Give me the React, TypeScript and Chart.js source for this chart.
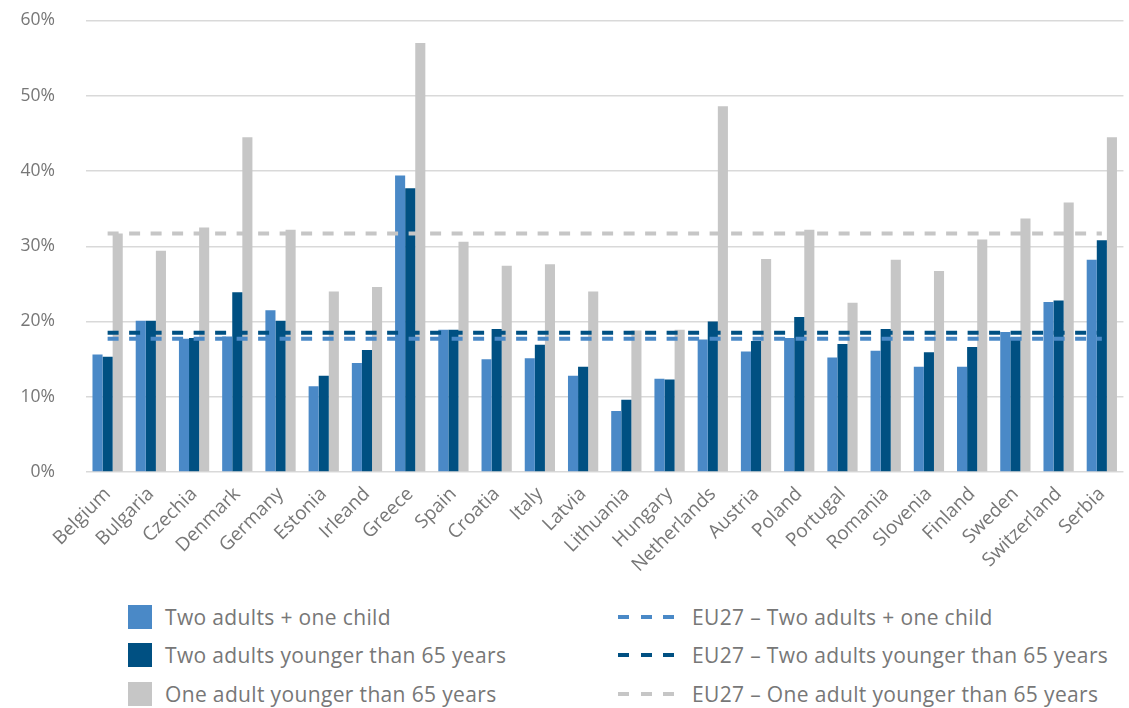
import React, { useEffect, useRef } from "react";
import { Chart, registerables } from "chart.js";

Chart.register(...registerables);

const categories = [
  "Belgium", "Bulgaria", "Czechia", "Denmark", "Germany", "Estonia", "Irleand", "Greece",
  "Spain", "Croatia", "Italy", "Latvia", "Lithuania", "Hungary", "Netherlands", "Austria",
  "Poland", "Portugal", "Romania", "Slovenia", "Finland", "Sweden", "Switzerland", "Serbia",
];

const twoAdultsOneChild = [
  15.6, 20.1, 17.7, 18.0, 21.5, 11.4, 14.5, 39.4, 18.9, 15.0, 15.1, 12.8,
  8.1, 12.4, 17.6, 16.0, 17.8, 15.2, 16.1, 14.0, 14.0, 18.6, 22.6, 28.2,
];
const twoAdultsUnder65 = [
  15.3, 20.1, 17.8, 23.9, 20.1, 12.8, 16.2, 37.7, 18.9, 19.0, 16.9, 14.0,
  9.6, 12.3, 20.0, 17.4, 20.6, 17.0, 19.0, 15.9, 16.6, 17.9, 22.8, 30.8,
];
const oneAdultUnder65 = [
  31.7, 29.4, 32.5, 44.5, 32.2, 24.0, 24.6, 57.0, 30.6, 27.4, 27.6, 24.0,
  18.8, 18.9, 48.6, 28.3, 32.2, 22.5, 28.2, 26.7, 30.9, 33.7, 35.8, 44.5,
];

const eu27TwoAdultsOneChild = 17.7;
const eu27TwoAdultsUnder65 = 18.5;
const eu27OneAdultUnder65 = 31.7;

const yMin = 0;
const yMax = 60;
const yStep = 10;

const seriesLabels = [
  "Two adults + one child",
  "Two adults younger than 65 years",
  "One adult younger than 65 years",
];
const euLabels = [
  "EU27 \u2013 Two adults + one child",
  "EU27 \u2013 Two adults younger than 65 years",
  "EU27 \u2013 One adult younger than 65 years",
];

const LIGHT = "#4a89c7";
const DARK = "#005082";
const GREY = "#c6c6c6";
const TEXT = "#777777";
const GRID = "#d9d9d9";
const FONT = "'Open Sans', 'Noto Sans', sans-serif";
const colors = [LIGHT, DARK, GREY];

export default function App() {
  const canvasRef = useRef<HTMLCanvasElement | null>(null);

  useEffect(() => {
    document.body.style.margin = "0";
    const ctx = canvasRef.current;
    if (!ctx) return;
    const euValues = [eu27TwoAdultsOneChild, eu27TwoAdultsUnder65, eu27OneAdultUnder65];
    const lineSets = euValues.map((v, i) => ({
      type: "line" as const,
      label: euLabels[i],
      data: categories.map(() => v),
      borderColor: colors[i],
      backgroundColor: colors[i],
      borderWidth: 4,
      borderDash: [11, 10.5],
      pointRadius: 0,
      fill: false,
      order: 0,
    }));
    const barSets = [twoAdultsOneChild, twoAdultsUnder65, oneAdultUnder65].map((d, i) => ({
      type: "bar" as const,
      label: seriesLabels[i],
      data: d,
      backgroundColor: colors[i],
      borderWidth: 0,
      categoryPercentage: 0.7,
      barPercentage: 1.0,
      order: 1,
    }));
    const chart = new Chart(ctx, {
      type: "bar",
      data: {
        labels: categories,
        datasets: [...barSets, ...lineSets] as any,
      },
      options: {
        animation: false,
        responsive: false,
        devicePixelRatio: 1,
        layout: { padding: { top: 0, right: 2, left: 0, bottom: 0 } },
        plugins: { legend: { display: false }, tooltip: { enabled: false } },
        scales: {
          x: {
            grid: { display: false, drawTicks: false },
            border: { display: false },
            ticks: {
              color: TEXT,
              font: { family: FONT, size: 19 },
              minRotation: 45,
              maxRotation: 45,
              padding: 11,
              autoSkip: false,
            },
            afterFit: (scale: any) => {
              scale.height = 118;
            },
          },
          y: {
            min: yMin,
            max: yMax,
            grid: { color: GRID, lineWidth: 1.5, drawTicks: false },
            border: { display: false },
            ticks: {
              stepSize: yStep,
              color: TEXT,
              font: { family: FONT, size: 17.5 },
              padding: 31,
              callback: (v: any) => `${v}%`,
            },
            afterFit: (scale: any) => {
              scale.width = 86;
            },
          },
        },
      },
    });
    return () => chart.destroy();
  }, []);

  const legendText: React.CSSProperties = {
    fontFamily: FONT,
    fontSize: 21,
    letterSpacing: "0.35px",
    color: TEXT,
    whiteSpace: "nowrap",
    lineHeight: "24px",
  };

  return (
    <div style={{ position: "relative", width: 1129, height: 708, background: "#fff", overflow: "hidden" }}>
      <canvas
        ref={canvasRef}
        width={1129}
        height={611}
        style={{ display: "block", position: "absolute", left: 0, top: -21 }}
      />
      {seriesLabels.map((label, i) => (
        <div
          key={label}
          style={{ position: "absolute", left: 128, top: 604.5 + i * 38.7, display: "flex", alignItems: "center", height: 24 }}
        >
          <div style={{ width: 24, height: 24, background: colors[i], marginRight: 13 }} />
          <span style={legendText}>{label}</span>
        </div>
      ))}
      {euLabels.map((label, i) => (
        <div
          key={label}
          style={{ position: "absolute", left: 618, top: 604.5 + i * 38.7, display: "flex", alignItems: "center", height: 24 }}
        >
          <div style={{ width: 56, height: 4, marginRight: 18, display: "flex", justifyContent: "space-between" }}>
            {[0, 1, 2].map((k) => (
              <div key={k} style={{ width: 11, height: 4, background: colors[i] }} />
            ))}
          </div>
          <span style={legendText}>{label}</span>
        </div>
      ))}
    </div>
  );
}
